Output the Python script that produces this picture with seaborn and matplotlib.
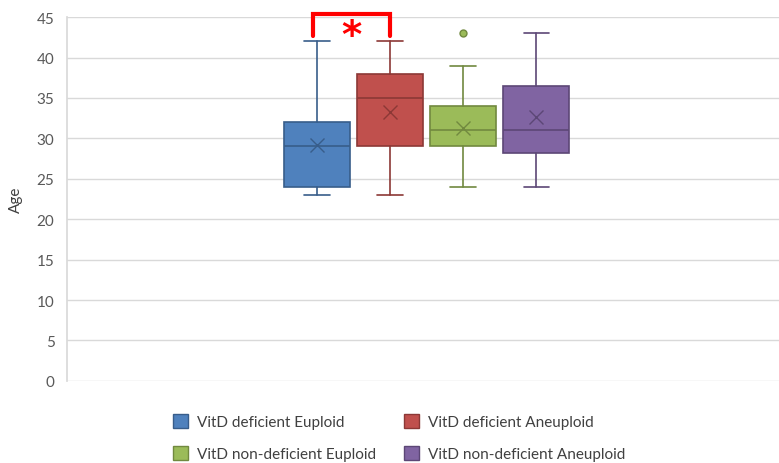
import matplotlib.pyplot as plt
import seaborn as sns
from matplotlib.patches import Patch

# summary statistics
groups = ["VitD deficient Euploid", "VitD deficient Aneuploid",
          "VitD non-deficient Euploid", "VitD non-deficient Aneuploid"]
whisker_low = [23, 23, 24, 24]
q1 = [24, 29, 29, 28.2]
median = [29, 35, 31, 31]
q3 = [32, 38, 34, 36.5]
whisker_high = [42, 42, 39, 43]
mean = [29.2, 33.2, 31.3, 32.7]
outliers = [[], [], [43], []]

face_colors = ["#4F81BD", "#C0504D", "#9BBB59", "#8064A2"]
edge_colors = ["#385D8A", "#8C3836", "#71893F", "#5C4776"]

sns.set_theme(style="white")
plt.rcParams["font.family"] = ["Lato", "DejaVu Sans"]

fig = plt.figure(figsize=(7.79, 4.64), dpi=100)
ax = fig.add_axes([0.086, 0.177, 0.914, 0.784])

stats = []
for i in range(len(groups)):
    stats.append(dict(whislo=whisker_low[i], q1=q1[i], med=median[i], q3=q3[i],
                      whishi=whisker_high[i], mean=mean[i], fliers=outliers[i]))

for i, st in enumerate(stats):
    ec = edge_colors[i]
    ax.bxp([st], positions=[i], widths=0.9, patch_artist=True, showmeans=True,
           boxprops=dict(facecolor=face_colors[i], edgecolor=ec, linewidth=1.2),
           medianprops=dict(color=ec, linewidth=1.2),
           whiskerprops=dict(color=ec, linewidth=1.2),
           capprops=dict(color=ec, linewidth=1.2),
           meanprops=dict(marker="x", markeredgecolor=ec, markersize=10, markeredgewidth=1),
           flierprops=dict(marker="o", markerfacecolor=face_colors[i], markeredgecolor=ec,
                           markersize=5),
           capwidths=0.35, zorder=3)

# significance bracket
ax.plot([-0.05, -0.05, 1.0, 1.0], [42.6, 45.4, 45.4, 42.6], color="red", lw=3,
        clip_on=False, zorder=5, solid_joinstyle="miter")
ax.text(0.47, 42.6, "*", color="red", fontsize=28, fontweight="bold",
        ha="center", va="center", clip_on=False, family="DejaVu Sans")

ax.set_xlim(-3.42, 6.32)
ax.set_ylim(0, 45)
ax.set_yticks(range(0, 46, 5))
ax.set_xticks([])
ax.yaxis.grid(True, color="#D9D9D9", linewidth=1)
ax.set_axisbelow(True)
for s in ["top", "right", "bottom"]:
    ax.spines[s].set_visible(False)
ax.spines["left"].set_color("#D9D9D9")
ax.tick_params(axis="y", length=5, color="#D9D9D9", labelsize=11, labelcolor="#595959", pad=4)
ax.set_ylabel("Age", fontsize=11, color="#404040", labelpad=10)

# legend fills column-wise, so reorder to read row by row
order = [0, 2, 1, 3]
handles = [Patch(facecolor=face_colors[i], edgecolor=edge_colors[i]) for i in order]
labels = [groups[i] for i in order]
fig.legend(handles, labels, loc="upper left", bbox_to_anchor=(0.21, 0.125), ncol=2,
           frameon=False, fontsize=11, labelcolor="#404040", handlelength=1.0,
           handleheight=1.0, columnspacing=1.8, labelspacing=1.1, handletextpad=0.6,
           borderaxespad=0.2)

fig.savefig("out.png", dpi=100)
